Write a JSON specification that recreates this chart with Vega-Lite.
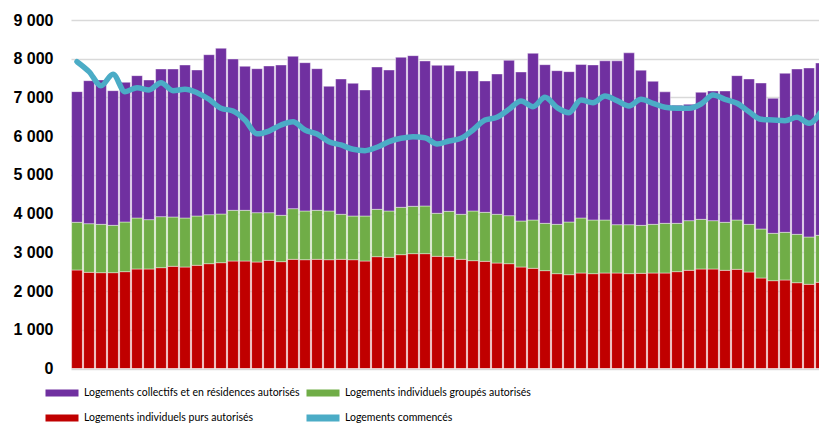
{
  "$schema": "https://vega.github.io/schema/vega-lite/v6.json",
  "autosize": "none",
  "width": 748,
  "height": 348.5,
  "padding": {"left": 71, "top": 20, "right": 0, "bottom": 57.5},
  "background": "white",
  "config": {"view": {"stroke": null}},
  "datasets": {
    "rows": [
      {"p":0,"purs":2544,"groupes":1232,"collectifs":3374,"commences":7924},
      {"p":1,"purs":2484,"groupes":1256,"collectifs":3693,"commences":7666},
      {"p":2,"purs":2475,"groupes":1248,"collectifs":3728,"commences":7304},
      {"p":3,"purs":2475,"groupes":1222,"collectifs":3478,"commences":7598},
      {"p":4,"purs":2501,"groupes":1282,"collectifs":3608,"commences":7149},
      {"p":5,"purs":2570,"groupes":1317,"collectifs":3676,"commences":7253},
      {"p":6,"purs":2570,"groupes":1274,"collectifs":3607,"commences":7193},
      {"p":7,"purs":2604,"groupes":1317,"collectifs":3814,"commences":7382},
      {"p":8,"purs":2639,"groupes":1274,"collectifs":3822,"commences":7175},
      {"p":9,"purs":2621,"groupes":1266,"collectifs":3951,"commences":7210},
      {"p":10,"purs":2665,"groupes":1273,"collectifs":3771,"commences":7123},
      {"p":11,"purs":2707,"groupes":1266,"collectifs":4131,"commences":6952},
      {"p":12,"purs":2733,"groupes":1257,"collectifs":4280,"commences":6720},
      {"p":13,"purs":2776,"groupes":1309,"collectifs":3908,"commences":6650},
      {"p":14,"purs":2776,"groupes":1309,"collectifs":3720,"commences":6418},
      {"p":15,"purs":2750,"groupes":1274,"collectifs":3719,"commences":6060},
      {"p":16,"purs":2793,"groupes":1231,"collectifs":3789,"commences":6130},
      {"p":17,"purs":2759,"groupes":1197,"collectifs":3882,"commences":6289},
      {"p":18,"purs":2819,"groupes":1309,"collectifs":3935,"commences":6374},
      {"p":19,"purs":2810,"groupes":1258,"collectifs":3830,"commences":6160},
      {"p":20,"purs":2819,"groupes":1266,"collectifs":3658,"commences":6056},
      {"p":21,"purs":2810,"groupes":1258,"collectifs":3220,"commences":5858},
      {"p":22,"purs":2819,"groupes":1163,"collectifs":3495,"commences":5772},
      {"p":23,"purs":2810,"groupes":1128,"collectifs":3427,"commences":5661},
      {"p":24,"purs":2776,"groupes":1162,"collectifs":3255,"commences":5626},
      {"p":25,"purs":2888,"groupes":1223,"collectifs":3676,"commences":5713},
      {"p":26,"purs":2871,"groupes":1197,"collectifs":3641,"commences":5858},
      {"p":27,"purs":2940,"groupes":1223,"collectifs":3874,"commences":5945},
      {"p":28,"purs":2966,"groupes":1223,"collectifs":3890,"commences":5987},
      {"p":29,"purs":2966,"groupes":1231,"collectifs":3745,"commences":5961},
      {"p":30,"purs":2897,"groupes":1111,"collectifs":3822,"commences":5798},
      {"p":31,"purs":2888,"groupes":1171,"collectifs":3771,"commences":5876},
      {"p":32,"purs":2819,"groupes":1163,"collectifs":3701,"commences":5945},
      {"p":33,"purs":2785,"groupes":1283,"collectifs":3615,"commences":6160},
      {"p":34,"purs":2767,"groupes":1266,"collectifs":3392,"commences":6418},
      {"p":35,"purs":2724,"groupes":1258,"collectifs":3624,"commences":6487},
      {"p":36,"purs":2707,"groupes":1240,"collectifs":4012,"commences":6694},
      {"p":37,"purs":2621,"groupes":1188,"collectifs":3849,"commences":6909},
      {"p":38,"purs":2587,"groupes":1248,"collectifs":4305,"commences":6762},
      {"p":39,"purs":2527,"groupes":1222,"collectifs":4097,"commences":7004},
      {"p":40,"purs":2449,"groupes":1274,"collectifs":3968,"commences":6740},
      {"p":41,"purs":2423,"groupes":1360,"collectifs":3883,"commences":6607},
      {"p":42,"purs":2466,"groupes":1421,"collectifs":3963,"commences":6934},
      {"p":43,"purs":2449,"groupes":1386,"collectifs":4005,"commences":6865},
      {"p":44,"purs":2466,"groupes":1369,"collectifs":4111,"commences":7038},
      {"p":45,"purs":2466,"groupes":1248,"collectifs":4232,"commences":6917},
      {"p":46,"purs":2449,"groupes":1265,"collectifs":4438,"commences":6780},
      {"p":47,"purs":2458,"groupes":1239,"collectifs":4008,"commences":6952},
      {"p":48,"purs":2466,"groupes":1257,"collectifs":3694,"commences":6849},
      {"p":49,"purs":2466,"groupes":1283,"collectifs":3396,"commences":6746},
      {"p":50,"purs":2501,"groupes":1248,"collectifs":3048,"commences":6720},
      {"p":51,"purs":2535,"groupes":1283,"collectifs":3005,"commences":6720},
      {"p":52,"purs":2570,"groupes":1282,"collectifs":3281,"commences":6831},
      {"p":53,"purs":2570,"groupes":1248,"collectifs":3349,"commences":7063},
      {"p":54,"purs":2535,"groupes":1240,"collectifs":3392,"commences":6952},
      {"p":55,"purs":2561,"groupes":1274,"collectifs":3728,"commences":6849},
      {"p":56,"purs":2492,"groupes":1231,"collectifs":3754,"commences":6632},
      {"p":57,"purs":2337,"groupes":1266,"collectifs":3770,"commences":6435},
      {"p":58,"purs":2268,"groupes":1223,"collectifs":3487,"commences":6418},
      {"p":59,"purs":2286,"groupes":1231,"collectifs":4107,"commences":6400},
      {"p":60,"purs":2216,"groupes":1249,"collectifs":4270,"commences":6487},
      {"p":61,"purs":2174,"groupes":1222,"collectifs":4365,"commences":6332},
      {"p":62,"purs":2226,"groupes":1214,"collectifs":4450,"commences":6632}
    ]
  },
  "data": {"name": "rows"},
  "encoding": {
    "x": {
      "field": "p",
      "type": "ordinal",
      "axis": null,
      "scale": {"range": [0, 756], "paddingInner": 0.1, "paddingOuter": 0.05}
    }
  },
  "layer": [
    {
      "transform": [{"fold": ["purs", "groupes", "collectifs"], "as": ["serie", "v"]}],
      "mark": {"type": "bar", "clip": true, "stroke": "white", "strokeWidth": 0.6, "strokeOpacity": 0.7},
      "encoding": {
        "y": {
          "field": "v",
          "type": "quantitative",
          "stack": "zero",
          "scale": {"domain": [0, 9000], "nice": false},
          "axis": {
            "values": [0, 1000, 2000, 3000, 4000, 5000, 6000, 7000, 8000, 9000],
            "tickCount": 10,
            "labelExpr": "replace(format(datum.value, ','), ',', ' ')",
            "labelOverlap": false,
            "labelFlush": false,
            "labelBound": false,
            "title": null,
            "domain": false,
            "ticks": false,
            "labelPadding": 18,
            "labelFont": "Liberation Sans",
            "labelFontSize": 16,
            "labelFontWeight": "bold",
            "labelColor": "#000000",
            "gridColor": "#D9D9D9",
            "gridWidth": 1.5
          }
        },
        "color": {
          "field": "serie",
          "type": "nominal",
          "scale": {
            "domain": ["collectifs", "groupes", "purs", "commences"],
            "range": ["#7030A0", "#70AD47", "#C00000", "#4BACC6"]
          },
          "legend": {
            "orient": "none",
            "legendX": -29,
            "legendY": 366,
            "direction": "horizontal",
            "columns": 2,
            "columnPadding": -5,
            "rowPadding": 11,
            "clipHeight": 14,
            "title": null,
            "symbolType": "stroke",
            "symbolSize": 1089,
            "symbolStrokeWidth": 7,
            "labelOffset": 2,
            "labelFont": "Lato",
            "labelFontSize": 10.5,
            "labelColor": "#000000",
            "labelLimit": 400,
            "labelExpr": "datum.value == 'collectifs' ? 'Logements  collectifs et en résidences autorisés' : datum.value == 'groupes' ? 'Logements individuels groupés autorisés' : datum.value == 'purs' ? 'Logements individuels purs autorisés' : 'Logements commencés'",
            "encode": {
              "symbols": {
                "update": {
                  "stroke": {"scale": "color", "field": "value"},
                  "fill": {"value": "transparent"},
                  "strokeWidth": {"signal": "datum.value == 'commences' ? 5 : 7"},
                  "strokeCap": {"signal": "datum.value == 'commences' ? 'round' : 'butt'"}
                }
              }
            }
          }
        },
        "order": {"field": "serie", "sort": "descending"}
      }
    },
    {
      "mark": {"type": "line", "clip": true, "strokeWidth": 5.5, "interpolate": "monotone", "strokeCap": "round", "strokeJoin": "round"},
      "encoding": {
        "y": {
          "field": "commences",
          "type": "quantitative",
          "axis": {
            "values": [0, 1000, 2000, 3000, 4000, 5000, 6000, 7000, 8000, 9000],
            "tickCount": 10,
            "labelExpr": "replace(format(datum.value, ','), ',', ' ')",
            "labelOverlap": false,
            "labelFlush": false,
            "labelBound": false,
            "title": null,
            "domain": false,
            "ticks": false,
            "labelPadding": 18,
            "labelFont": "Liberation Sans",
            "labelFontSize": 16,
            "labelFontWeight": "bold",
            "labelColor": "#000000",
            "gridColor": "#D9D9D9",
            "gridWidth": 1.5
          }
        },
        "color": {"datum": "commences", "type": "nominal"}
      }
    }
  ]
}
